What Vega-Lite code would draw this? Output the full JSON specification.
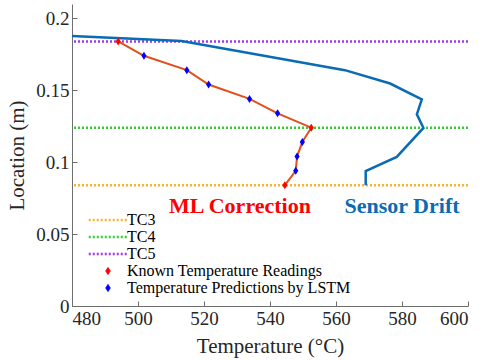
{
  "$schema": "https://vega.github.io/schema/vega-lite/v6.json",
  "width": 396,
  "height": 302,
  "autosize": {"type": "none"},
  "padding": {"left": 72, "top": 4, "right": 17, "bottom": 54},
  "background": "white",
  "config": {
    "view": {"stroke": null},
    "font": "Liberation Serif",
    "axis": {
      "grid": false,
      "domainColor": "#6e6e6e",
      "tickColor": "#6e6e6e",
      "tickSize": -5,
      "labelFont": "Liberation Serif",
      "labelFontSize": 19,
      "labelColor": "#262626",
      "titleFont": "Liberation Serif",
      "titleFontSize": 21,
      "titleFontWeight": "normal",
      "titleColor": "#262626"
    },
    "legend": {
      "orient": "none",
      "legendX": 28,
      "legendY": 208,
      "padding": 0,
      "labelFont": "Liberation Serif",
      "labelFontSize": 16,
      "labelColor": "#000000",
      "labelLimit": 400,
      "symbolSize": 49,
      "labelOffset": 11,
      "rowPadding": 1
    }
  },
  "datasets": {
    "tc": [
      {"series": "TC3", "loc": 0.084},
      {"series": "TC4", "loc": 0.124},
      {"series": "TC5", "loc": 0.184}
    ],
    "ml": [
      {"series": "Known Temperature Readings", "temp": 494, "loc": 0.184},
      {"series": "Temperature Predictions by LSTM", "temp": 501.8, "loc": 0.174},
      {"series": "Temperature Predictions by LSTM", "temp": 514.8, "loc": 0.164},
      {"series": "Temperature Predictions by LSTM", "temp": 521.4, "loc": 0.154},
      {"series": "Temperature Predictions by LSTM", "temp": 533.8, "loc": 0.144},
      {"series": "Temperature Predictions by LSTM", "temp": 542.3, "loc": 0.134},
      {"series": "Known Temperature Readings", "temp": 552.5, "loc": 0.124},
      {"series": "Temperature Predictions by LSTM", "temp": 549.8, "loc": 0.114},
      {"series": "Temperature Predictions by LSTM", "temp": 548.2, "loc": 0.104},
      {"series": "Temperature Predictions by LSTM", "temp": 547.8, "loc": 0.094},
      {"series": "Known Temperature Readings", "temp": 544.5, "loc": 0.084}
    ],
    "drift": [
      {"temp": 480, "loc": 0.1877},
      {"temp": 513.2, "loc": 0.1842},
      {"temp": 562.7, "loc": 0.164},
      {"temp": 576.4, "loc": 0.1547},
      {"temp": 586.0, "loc": 0.1437},
      {"temp": 584.5, "loc": 0.1333},
      {"temp": 586.5, "loc": 0.1238},
      {"temp": 578.4, "loc": 0.1037},
      {"temp": 569.0, "loc": 0.0938},
      {"temp": 569.0, "loc": 0.084}
    ],
    "note_ml": [
      {"label": "ML Correction", "temp": 530.9, "loc": 0.0646}
    ],
    "note_drift": [
      {"label": "Sensor Drift", "temp": 580.0, "loc": 0.0646}
    ]
  },
  "layer": [
    {
      "data": {"name": "tc"},
      "mark": {"type": "rule", "strokeDash": [2, 2], "strokeWidth": 2.5},
      "encoding": {
        "y": {"field": "loc", "type": "quantitative"},
        "color": {
          "field": "series",
          "type": "nominal",
          "scale": {
            "domain": ["TC3", "TC4", "TC5", "Known Temperature Readings", "Temperature Predictions by LSTM"],
            "range": ["#FFB12E", "#33CC33", "#9B3BF0", "#FF0000", "#0000FF"]
          },
          "legend": {
            "title": null,
            "encode": {
              "symbols": {
                "update": {
                  "shape": {"signal": "datum.value == 'Known Temperature Readings' || datum.value == 'Temperature Predictions by LSTM' ? 'M0,-1L0.65,0L0,1L-0.65,0Z' : 'M-5.5,0H5.5'"},
                  "fill": {"signal": "datum.value == 'Known Temperature Readings' ? '#FF0000' : datum.value == 'Temperature Predictions by LSTM' ? '#0000FF' : 'transparent'"},
                  "stroke": {"scale": "color", "field": "value"},
                  "strokeDash": {"signal": "datum.value == 'Known Temperature Readings' || datum.value == 'Temperature Predictions by LSTM' ? [1, 0] : [2, 2]"},
                  "strokeWidth": {"signal": "datum.value == 'Known Temperature Readings' || datum.value == 'Temperature Predictions by LSTM' ? 1 : 2.5"},
                  "opacity": {"value": 1}
                }
              }
            }
          }
        }
      }
    },
    {
      "data": {"name": "drift"},
      "mark": {"type": "line", "color": "#0A6BB5", "strokeWidth": 2.5},
      "encoding": {
        "x": {"field": "temp", "type": "quantitative", "scale": {"domain": [480, 600], "nice": false},
          "axis": {"title": "Temperature (°C)", "values": [480, 500, 520, 540, 560, 580, 600], "labelPadding": 8, "titlePadding": 7}},
        "y": {"field": "loc", "type": "quantitative", "scale": {"domain": [0, 0.21], "nice": false},
          "axis": {"title": "Location (m)", "values": [0, 0.05, 0.1, 0.15, 0.2], "format": ".2~f", "labelPadding": 8, "titlePadding": 8}},
        "order": {"field": "loc", "sort": "descending"}
      }
    },
    {
      "data": {"name": "ml"},
      "mark": {"type": "line", "color": "#E0501A", "strokeWidth": 2},
      "encoding": {
        "x": {"field": "temp", "type": "quantitative"},
        "y": {"field": "loc", "type": "quantitative"},
        "order": {"field": "loc", "sort": "descending"}
      }
    },
    {
      "data": {"name": "ml"},
      "mark": {"type": "point", "shape": "M0,-1L0.65,0L0,1L-0.65,0Z", "filled": true, "size": 64, "opacity": 1},
      "encoding": {
        "x": {"field": "temp", "type": "quantitative"},
        "y": {"field": "loc", "type": "quantitative"},
        "color": {"field": "series", "type": "nominal"}
      }
    },
    {
      "data": {"name": "note_ml"},
      "mark": {"type": "text", "font": "Liberation Serif", "fontSize": 22, "fontWeight": "bold", "align": "center", "baseline": "alphabetic", "color": "#FF0000"},
      "encoding": {
        "x": {"field": "temp", "type": "quantitative"},
        "y": {"field": "loc", "type": "quantitative"},
        "text": {"field": "label"}
      }
    },
    {
      "data": {"name": "note_drift"},
      "mark": {"type": "text", "font": "Liberation Serif", "fontSize": 22, "fontWeight": "bold", "align": "center", "baseline": "alphabetic", "color": "#0A6BB5"},
      "encoding": {
        "x": {"field": "temp", "type": "quantitative"},
        "y": {"field": "loc", "type": "quantitative"},
        "text": {"field": "label"}
      }
    }
  ]
}
